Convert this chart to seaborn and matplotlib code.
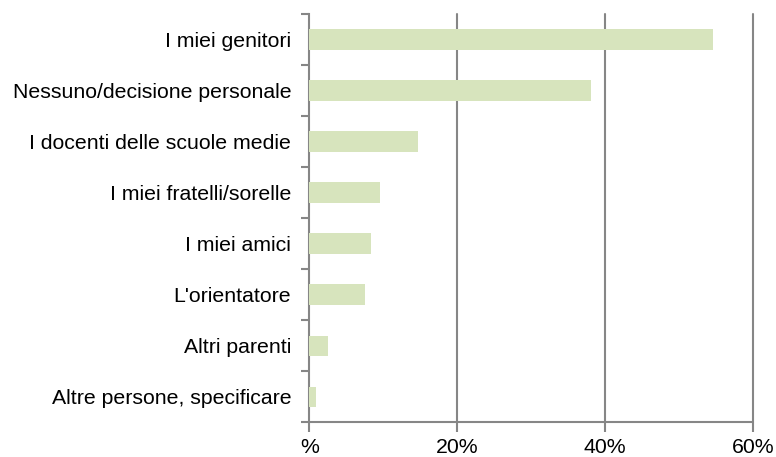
import matplotlib
matplotlib.use("Agg")
import matplotlib.pyplot as plt
import seaborn as sns
import pandas as pd
from matplotlib.ticker import FixedLocator

categories = [
    "I miei genitori",
    "Nessuno/decisione personale",
    "I docenti delle scuole medie",
    "I miei fratelli/sorelle",
    "I miei amici",
    "L'orientatore",
    "Altri parenti",
    "Altre persone, specificare",
]
values = [54.6, 38.1, 14.7, 9.6, 8.4, 7.5, 2.5, 0.9]
x_ticks = [0, 20, 40, 60]
x_tick_labels = ["%", "20%", "40%", "60%"]

sns.set_style("white")
plt.rcParams["font.family"] = ["Liberation Sans", "DejaVu Sans"]

df = pd.DataFrame({"cat": categories, "val": values})

fig = plt.figure(figsize=(7.76, 4.57), dpi=100)
ax = fig.add_axes([309.3 / 776, 1 - 422.3 / 457, (752.7 - 309.3) / 776, (422.3 - 14) / 457])

sns.barplot(data=df, x="val", y="cat", orient="h", color="#D7E4BD",
            saturation=1, width=0.4, linewidth=0, ax=ax, zorder=3)

grid_c = "#868686"
ax.set_xlim(0, 60)
ax.set_ylim(7.5, -0.5)
ax.set_xticks(x_ticks)
ax.set_xticklabels(x_tick_labels)
for xv in x_ticks[1:]:
    ax.axvline(xv, color=grid_c, lw=1.5, zorder=1, clip_on=False)

ax.set_xlabel("")
ax.set_ylabel("")
for s in ["top", "right"]:
    ax.spines[s].set_visible(False)
ax.spines["bottom"].set_visible(False)
ax.spines["left"].set_color(grid_c)
ax.spines["left"].set_linewidth(1.5)
ax.axhline(7.5, color=grid_c, lw=1.5, zorder=2, clip_on=False)

ax.yaxis.set_minor_locator(FixedLocator([i - 0.5 for i in range(len(categories) + 1)]))
ax.tick_params(axis="y", which="major", length=0, pad=13, labelsize=15.3, colors="black")
ax.tick_params(axis="y", which="minor", length=6, width=1.5, color=grid_c, left=True)
ax.tick_params(axis="x", which="major", length=7, width=1.5, color=grid_c, bottom=True,
               pad=4, labelsize=15.3, labelcolor="black")

fig.savefig("out.png", dpi=100)
